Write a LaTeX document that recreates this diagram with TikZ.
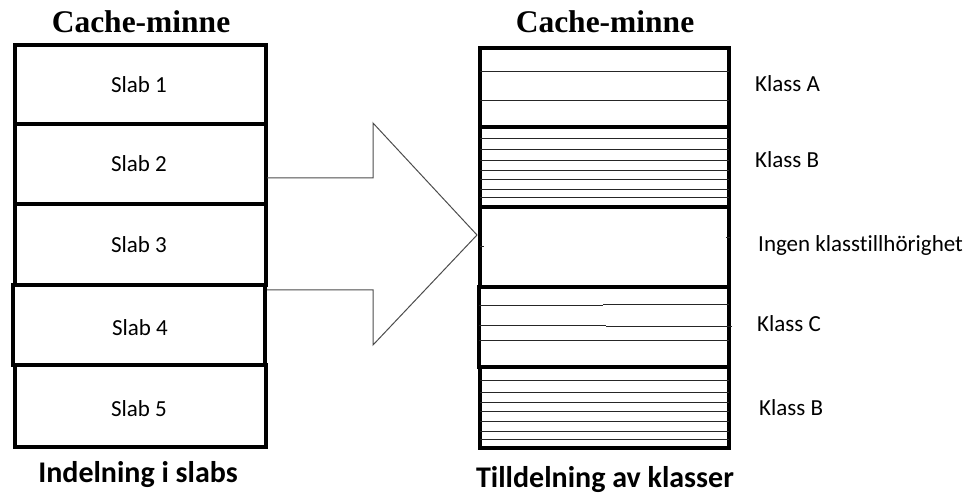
\documentclass[tikz,border=0pt]{standalone}
\usepackage{fontspec}
\setmainfont{Carlito}[Ligatures={NoCommon}]
\newfontfamily\titlefont{Liberation Serif}
\begin{document}
\begin{tikzpicture}[x=1pt,y=-1pt,
  box/.style={draw=black,line width=4.5pt,inner sep=0pt,outer sep=0pt,minimum width=#1},
  box/.default=251pt,
  lbl/.style={font=\fontsize{23}{24}\selectfont,inner sep=0pt,anchor=base},
  klbl/.style={font=\fontsize{23}{24}\selectfont,inner sep=0pt,anchor=base west},
  ttl/.style={font=\titlefont\bfseries\fontsize{31.5}{32}\selectfont,inner sep=0pt,anchor=base},
  captext/.style={font=\bfseries\fontsize{30}{31}\selectfont,inner sep=0pt,anchor=base},
  hl/.style={draw=black!85,line width=1pt},
  arr/.style={draw=black!70,line width=1pt}]
\useasboundingbox (0,0) rectangle (972,494);
% titles
\node[ttl] (t1) at (141,33) {Cache-minne};
\node[ttl] (t2) at (605,33) {Cache-minne};
% left slabs
\node[box,minimum height=79pt] (s1) at (140.5,84.5) {};
\node[box,minimum height=80pt] (s2) at (140.5,164) {};
\node[box,minimum height=81pt] (s3) at (140.5,244.5) {};
\node[box=252pt,minimum height=80pt] (s4) at (139,325) {};
\node[box,minimum height=82pt] (s5) at (140.5,406) {};
\node[lbl] (l1) at (139,93) {Slab 1};
\node[lbl] (l2) at (139,172) {Slab 2};
\node[lbl] (l3) at (139,253) {Slab 3};
\node[lbl] (l4) at (140,335) {Slab 4};
\node[lbl] (l5) at (139,416) {Slab 5};
% arrow
\draw[arr] (267,178) -- (373,178) -- (373,123) -- (477,235) -- (373,345) -- (373,290) -- (267,290);
% right boxes
\node[box=249pt,minimum height=79pt] (r1) at (604.5,87.5) {};
\node[box=249pt,minimum height=80pt] (r2) at (604.5,167) {};
\node[box=249pt,minimum height=80pt] (r3) at (604.5,247) {};
\node[box=250pt,minimum height=80pt] (r4) at (604,327) {};
\node[box=249pt,minimum height=81pt] (r5) at (604.5,407.5) {};
% inner lines
\foreach \y in {72,101} \draw[hl] (480,\y) -- (729,\y);
\foreach \y in {139,150,161,171,180,190,198} \draw[hl] (480,\y) -- (729,\y);
\draw[hl] (479,306) -- (603,306);
\draw[hl] (603,305) -- (729,305);
\draw[hl] (479,326) -- (606,326);
\draw[hl] (606,327) -- (732,327);
\draw[hl] (479,341) -- (729,341);
\foreach \y in {380,392,402,411,421,431,439} \draw[hl] (480,\y) -- (729,\y);
\draw[hl] (480,247) -- (484,247);
\draw[hl] (726,238) -- (730,238);
% class labels
\node[klbl] (k1) at (755,92) {Klass A};
\node[klbl] (k2) at (755,168) {Klass B};
\node[klbl] (k3) at (758,252) {Ingen klasstillhörighet};
\node[klbl] (k4) at (757,332) {Klass C};
\node[klbl] (k5) at (759,415) {Klass B};
% captions
\node[captext] (c1) at (138,482) {Indelning i slabs};
\node[captext] (c2) at (605,487) {Tilldelning av klasser};
\end{tikzpicture}
\end{document}
